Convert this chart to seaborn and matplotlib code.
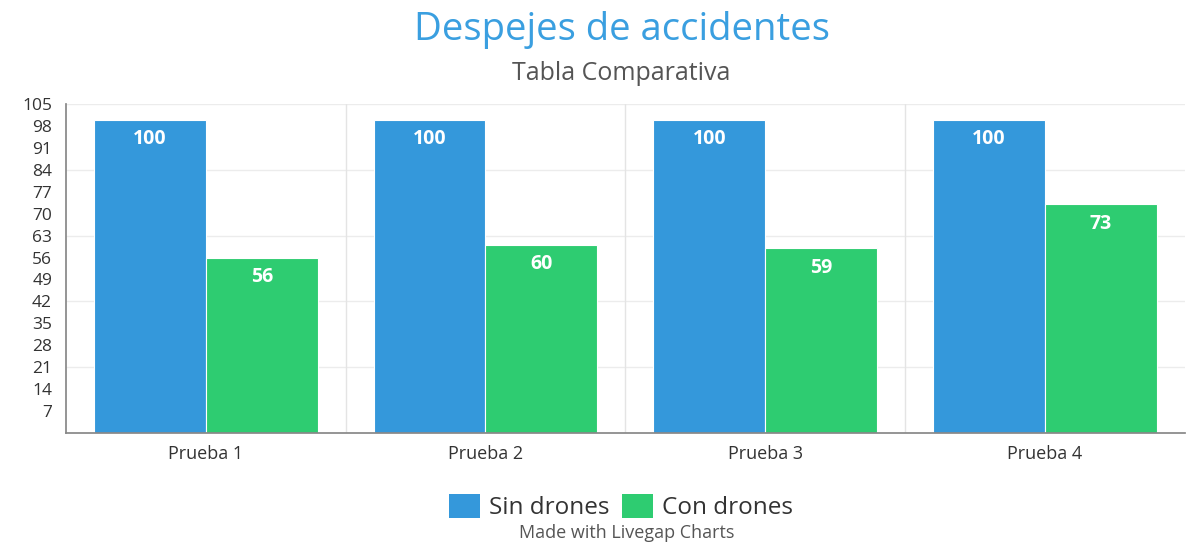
import matplotlib
matplotlib.use("Agg")
import matplotlib.pyplot as plt
import seaborn as sns
import pandas as pd
from matplotlib.patches import Patch

categories = ["Prueba 1", "Prueba 2", "Prueba 3", "Prueba 4"]
sin_drones = [100, 100, 100, 100]
con_drones = [56, 60, 59, 73]
series_names = ["Sin drones", "Con drones"]
colors = ["#3498db", "#2ecc71"]
yticks = list(range(7, 106, 7))

df = pd.DataFrame({
    "cat": categories * 2,
    "serie": [series_names[0]] * 4 + [series_names[1]] * 4,
    "valor": sin_drones + con_drones,
})

sns.set_theme(style="white")
plt.rcParams["font.family"] = ["Open Sans", "DejaVu Sans"]

fig = plt.figure(figsize=(11.87, 5.43), dpi=100)
ax = fig.add_axes([0.0556, 0.2026, 0.9424, 0.6059])

sns.barplot(data=df, x="cat", y="valor", hue="serie", palette=colors,
            width=0.8, gap=0.0, ax=ax, legend=False, saturation=1,
            edgecolor="white", linewidth=0.8)

ax.set_xlim(-0.5, 3.5)
ax.set_ylim(0, 105)
ax.set_yticks(yticks)
ax.set_yticklabels([str(t) for t in yticks], fontsize=12.5, color="#333333")
ax.tick_params(axis="y", length=8, color="#dddddd", pad=2)
ax.tick_params(axis="x", length=0, labelsize=13, labelcolor="#333333", pad=9)
ax.set_xlabel("")
ax.set_ylabel("")

for y in [21, 42, 63, 84, 105]:
    ax.axhline(y, color="#ececec", lw=1, zorder=0)
for x in [0.5, 1.5, 2.5]:
    ax.axvline(x, color="#e4e4e4", lw=1, zorder=0)

for s in ["top", "right"]:
    ax.spines[s].set_visible(False)
ax.spines["left"].set_color("#888888")
ax.spines["bottom"].set_color("#888888")

for cont in ax.containers:
    for bar in cont:
        h = bar.get_height()
        ax.text(bar.get_x() + bar.get_width() / 2, h - 6.2, f"{int(h)}",
                ha="center", va="center", color="white", fontsize=14,
                fontweight="bold")

fig.text(0.524, 0.945, "Despejes de accidentes", ha="center", va="center",
         fontsize=27.5, color="#3a9fe0")
fig.text(0.523, 0.865, "Tabla Comparativa", ha="center", va="center",
         fontsize=18, color="#555555")

handles = [Patch(facecolor=c, edgecolor="none") for c in colors]
leg = fig.legend(handles, series_names, loc="center",
                 ncol=2, frameon=False, fontsize=17.5, handlelength=1.3,
                 handleheight=1.1, columnspacing=0.5, handletextpad=0.35,
                 labelcolor="#333333")
leg.set_bbox_to_anchor((0.523, 0.066), transform=fig.transFigure)
fig.text(0.528, 0.018, "Made with Livegap Charts", ha="center", va="center",
         fontsize=13, color="#555555")

fig.savefig("out.png", dpi=100)
